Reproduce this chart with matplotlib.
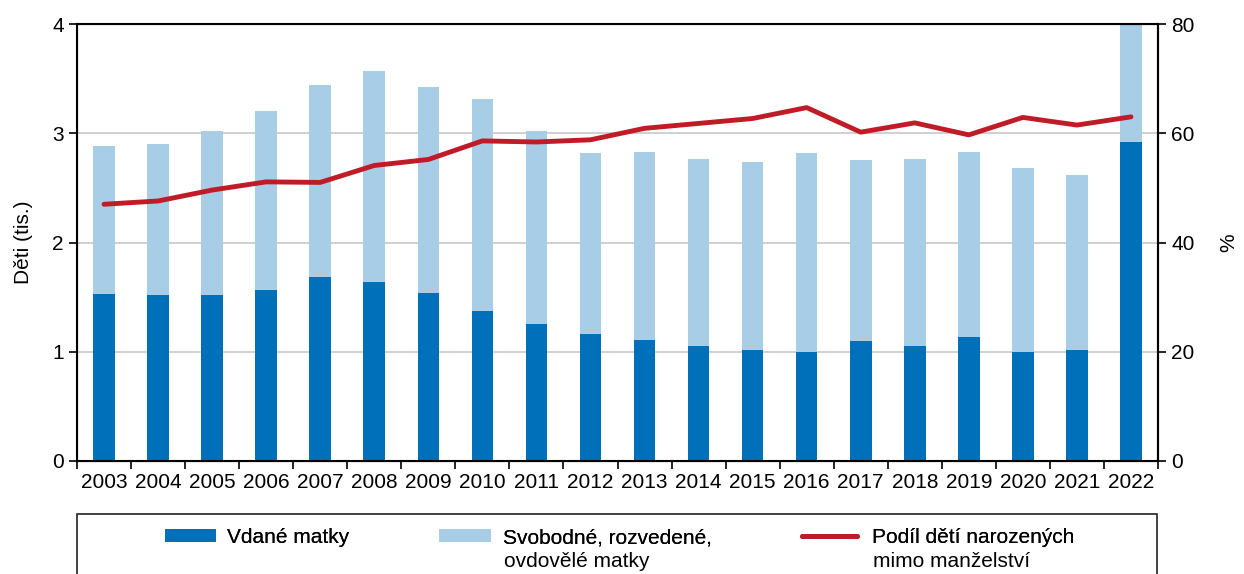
import matplotlib
matplotlib.use("Agg")
import matplotlib.pyplot as plt
from matplotlib.patches import Rectangle
import numpy as np

plt.rcParams['font.family'] = ['Liberation Sans', 'DejaVu Sans']

# data
years = ["2003", "2004", "2005", "2006", "2007", "2008", "2009", "2010", "2011", "2012",
         "2013", "2014", "2015", "2016", "2017", "2018", "2019", "2020", "2021", "2022"]
married = [1.53, 1.52, 1.52, 1.565, 1.68, 1.64, 1.54, 1.37, 1.25, 1.16,
           1.11, 1.05, 1.02, 1.00, 1.10, 1.05, 1.135, 1.00, 1.015, 2.92]
total = [2.88, 2.90, 3.02, 3.20, 3.44, 3.57, 3.42, 3.31, 3.02, 2.82,
         2.83, 2.76, 2.74, 2.82, 2.755, 2.76, 2.83, 2.68, 2.62, 4.0]
share = [47.0, 47.6, 49.6, 51.1, 51.0, 54.1, 55.2, 58.6, 58.4, 58.8,
         60.9, 61.8, 62.7, 64.7, 60.2, 61.9, 59.7, 62.9, 61.5, 63.0]

unmarried = np.array(total) - np.array(married)
x = np.arange(len(years))

dark = "#0070bb"
light = "#a7cde7"
red = "#c01b26"
fs = 15
W, H = 1244, 574

fig = plt.figure(figsize=(12.44, 5.74), dpi=100)
ax = fig.add_axes([77 / W, 1 - 461 / H, 1081 / W, 437 / H])

b1 = ax.bar(x, married, 0.4, color=dark, zorder=2)
b2 = ax.bar(x, unmarried, 0.4, bottom=married, color=light, zorder=2)

ax.set_xlim(-0.5, len(years) - 0.5)
ax.set_ylim(0, 4)
ax.set_yticks([0, 1, 2, 3, 4])
ax.yaxis.grid(True, color="#c8c8c8", linewidth=1.2, zorder=0)
ax.set_axisbelow(True)
ax.set_xticks(x)
ax.set_xticklabels(years, fontsize=fs)
ax.set_xticks(np.arange(-0.5, len(years)), minor=True)
ax.tick_params(axis="x", which="major", length=0, pad=9)
ax.tick_params(axis="x", which="minor", length=6, width=1.2, direction="out")
ax.tick_params(axis="y", labelsize=fs, length=6, width=1.2)
ax.set_ylabel("Děti (tis.)", fontsize=fs, labelpad=14)
for s in ax.spines.values():
    s.set_linewidth(1.5)

ax2 = ax.twinx()
line, = ax2.plot(x, share, color=red, linewidth=3.5, solid_capstyle="round", zorder=3)
ax2.set_ylim(0, 80)
ax2.set_yticks([0, 20, 40, 60, 80])
ax2.tick_params(axis="y", labelsize=fs, length=6, width=1.2)
ax2.set_ylabel("%", fontsize=fs, labelpad=18)
ax2.spines["right"].set_linewidth(1.5)

# legend frame (bottom runs off the figure)
fig.add_artist(Rectangle((77 / W, -0.05), 1080 / W, (574 - 514) / H + 0.05,
                         transform=fig.transFigure, fill=False, edgecolor="#222222",
                         linewidth=1.2, clip_on=False))

px = fs * 100 / 72
top = 1 - 528 / H
entries = [
    (b1, "Vdané matky", None, 165, 51, 11),
    (b2, "Svobodné, rozvedené,", "ovdovělé matky", 439, 52, 12),
    (line, "Podíl dětí narozených", "mimo manželství", 802, 55, 15),
]
for handle, first, second, x0, hw, gap in entries:
    leg = fig.legend(handles=[handle], labels=[first], loc="upper left",
                     bbox_to_anchor=(x0 / W, top), frameon=False, fontsize=fs,
                     borderpad=0, borderaxespad=0, handlelength=hw / px,
                     handleheight=0.55, handletextpad=gap / px)
    fig.add_artist(leg)
    if second:
        fig.text((x0 + hw + gap + 1) / W, 1 - 567 / H, second, fontsize=fs,
                 va="baseline", ha="left")

fig.savefig("out.png", dpi=100)
